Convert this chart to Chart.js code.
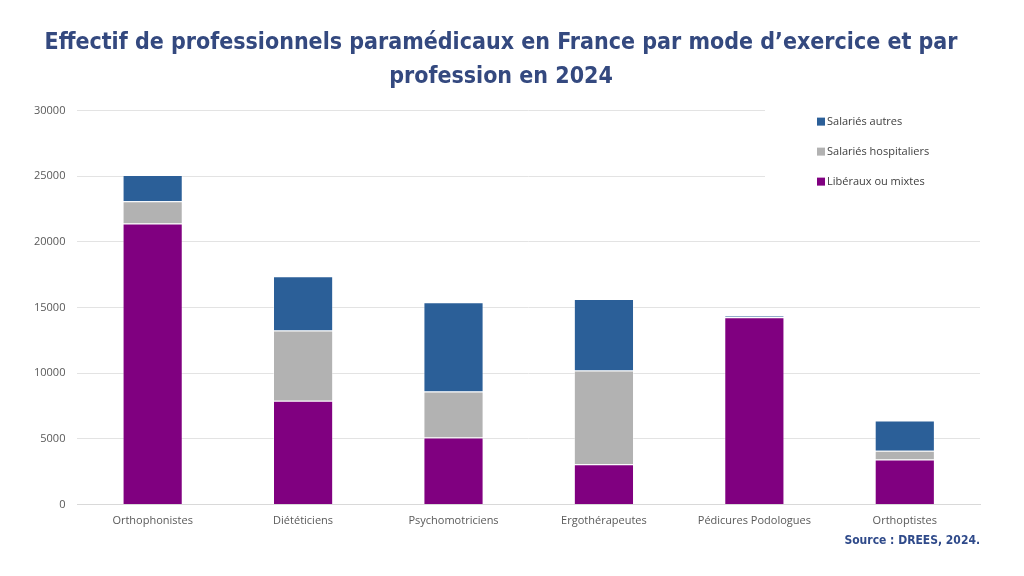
<!DOCTYPE html>
<html>
<head>
<meta charset="utf-8">
<script src="https://cdn.jsdelivr.net/npm/chart.js@4"></script>
<style>
  html, body { margin: 0; padding: 0; background: #fff; }
  #wrap { width: 1024px; height: 576px; }
</style>
</head>
<body>
<div id="wrap"><canvas id="chart"></canvas></div>
<script>
    'use strict';

    var professions = ['Orthophonistes', 'Diététiciens', 'Psychomotriciens', 'Ergothérapeutes', 'Pédicures Podologues', 'Orthoptistes'];
    var liberaux = [21400, 7900, 5100, 3050, 14250, 3420];
    var hospitaliers = [1700, 5350, 3500, 7150, 30, 660];
    var autres = [2000, 4130, 6800, 5450, 80, 2320];
    var yTicks = [0, 5000, 10000, 15000, 20000, 25000, 30000];

    var chartColors = ['#800080', '#B2B2B2', '#2B5F98'];
    var tickColor = '#595959';

    // legend drawn inside the plot, top right, on a white box (as in the reference)
    var insideLegend = {
        id: 'insideLegend',
        afterDraw: function (chart) {
            var ctx = chart.ctx;
            var area = chart.chartArea;
            var x0 = area.right - 215;
            var y0 = area.top - 10;
            ctx.save();
            ctx.fillStyle = '#ffffff';
            ctx.fillRect(x0, y0, 217, 112);
            var items = chart.data.datasets.slice().reverse();
            ctx.font = '11px "Open Sans", sans-serif';
            ctx.textBaseline = 'middle';
            items.forEach(function (ds, i) {
                var y = area.top + 11 + i * 30;
                ctx.fillStyle = ds.backgroundColor;
                ctx.fillRect(x0 + 52, y - 4, 8, 8);
                ctx.fillStyle = '#404040';
                ctx.fillText(ds.label, x0 + 62, y);
            });
            ctx.restore();
        }
    };

    var ctx = document.getElementById('chart');
    new Chart(ctx, {
        type: 'bar',
        data: {
            labels: professions,
            datasets: [
                { label: 'Libéraux ou mixtes', data: liberaux, backgroundColor: chartColors[0] },
                { label: 'Salariés hospitaliers', data: hospitaliers, backgroundColor: chartColors[1] },
                { label: 'Salariés autres', data: autres, backgroundColor: chartColors[2] }
            ].map(function (ds) {
                ds.borderColor = 'rgba(255,255,255,0.35)';
                ds.borderWidth = 1;
                ds.categoryPercentage = 1;
                ds.barPercentage = 0.4;
                return ds;
            })
        },
        options: {
            responsive: true,
            maintainAspectRatio: false,
            animation: false,
            layout: { padding: { left: 22, right: 44, top: 26, bottom: 4 } },
            plugins: {
                legend: { display: false },
                tooltip: { enabled: false },
                title: {
                    display: true,
                    text: ['Effectif de professionnels paramédicaux en France par mode d\u2019exercice et par', 'profession en 2024'],
                    color: '#34497F',
                    font: { family: '"DejaVu Sans Condensed", "DejaVu Sans", sans-serif', weight: 'bold', size: 23, lineHeight: 1.47 },
                    padding: { top: 0, bottom: 17 }
                },
                subtitle: {
                    display: true,
                    position: 'bottom',
                    align: 'end',
                    text: 'Source : DREES, 2024.',
                    color: '#2F4A8A',
                    font: { family: '"DejaVu Sans Condensed", "DejaVu Sans", sans-serif', weight: 'bold', size: 12 },
                    padding: { top: 4, bottom: 24 }
                }
            },
            scales: {
                x: {
                    stacked: true,
                    grid: { display: false },
                    border: { color: '#D9D9D9' },
                    ticks: { color: tickColor, font: { family: '"Open Sans", sans-serif', size: 11 }, padding: 2 }
                },
                y: {
                    stacked: true,
                    min: 0,
                    max: 30000,
                    afterBuildTicks: function (axis) {
                        axis.ticks = yTicks.map(function (v) { return { value: v }; });
                    },
                    grid: { color: '#E3E3E3', drawTicks: false },
                    border: { display: false },
                    ticks: {
                        color: tickColor,
                        font: { family: '"Open Sans", sans-serif', size: 11 },
                        padding: 12,
                        callback: function (v) { return String(v); }
                    }
                }
            }
        },
        plugins: [insideLegend]
    });
</script>
</body>
</html>
